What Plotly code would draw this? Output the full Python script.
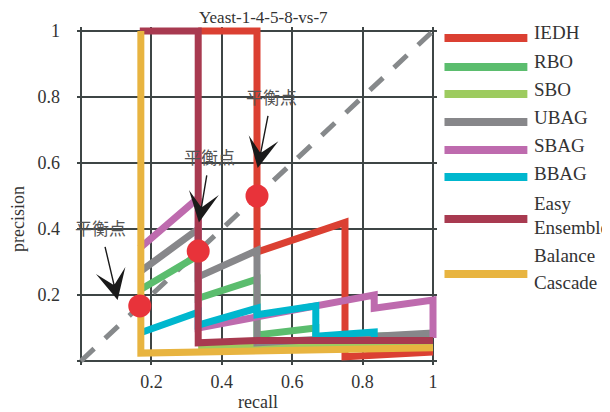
import plotly.graph_objects as go

# ---------------- data ----------------
series_names = ["IEDH", "RBO", "SBO", "UBAG", "SBAG", "BBAG", "Easy Ensemble", "Balance Cascade"]
series_colors = ["#DB4032", "#5BBD6E", "#9DCB5F", "#87878A", "#BE6BAE", "#00B7CE", "#A83A50", "#E8B440"]

iedh_recall = [0.333, 0.5, 0.5, 0.75, 0.75, 1.0]
iedh_precision = [1.0, 1.0, 0.33, 0.42, 0.013, 0.027]

rbo_recall = [0.167, 0.333, 0.333, 0.5, 0.5, 0.667, 0.667, 1.0]
rbo_precision = [0.215, 0.32, 0.19, 0.248, 0.079, 0.10, 0.07, 0.08]

sbo_recall = [0.333, 0.5, 1.0]
sbo_precision = [0.036, 0.042, 0.05]

ubag_recall = [0.167, 0.333, 0.333, 0.5, 0.5, 1.0]
ubag_precision = [0.27, 0.40, 0.255, 0.335, 0.055, 0.085]

sbag_recall = [0.167, 0.333, 0.333, 0.833, 0.833, 1.0, 1.0]
sbag_precision = [0.342, 0.494, 0.10, 0.20, 0.16, 0.185, 0.07]

bbag_recall = [0.167, 0.333, 0.333, 0.5, 0.5, 0.667, 0.667, 0.833, 0.833]
bbag_precision = [0.085, 0.148, 0.109, 0.16, 0.14, 0.167, 0.075, 0.088, 0.07]

easy_recall = [0.167, 0.333, 0.333, 0.5, 1.0]
easy_precision = [1.0, 1.0, 0.055, 0.062, 0.062]

bc_recall = [0.17, 0.17, 1.0]
bc_precision = [1.0, 0.024, 0.04]

diag_recall = [0.0, 1.0]
diag_precision = [0.0, 1.0]

balance_recall = [0.167, 0.333, 0.5]
balance_precision = [0.167, 0.333, 0.5]
balance_label = "平衡点"
# arrow tips (data) and text offsets (px)
arrow_tip_x = [0.104, 0.335, 0.502]
arrow_tip_y = [0.185, 0.42, 0.585]
arrow_ax = [-17, 11, 14]
arrow_ay = [-72, -66, -71]

tick_vals = [0, 0.2, 0.4, 0.6, 0.8, 1]
x_tick_text = ["", "0.2", "0.4", "0.6", "0.8", "1"]
y_tick_text = ["", "0.2", "0.4", "0.6", "0.8", "1"]

title_text = "Yeast-1-4-5-8-vs-7"
x_title = "recall"
y_title = "precision"

all_x = [iedh_recall, rbo_recall, sbo_recall, ubag_recall, sbag_recall, bbag_recall, easy_recall, bc_recall]
all_y = [iedh_precision, rbo_precision, sbo_precision, ubag_precision, sbag_precision, bbag_precision,
         easy_precision, bc_precision]

# ---------------- layout geometry ----------------
OFF = 8                      # page body margin
W, H = 610 - OFF, 412 - OFF
PX0, PX1 = 77 - OFF, 437.5 - OFF     # plot area in px (frame at 81..433.5 in screen)
PY0, PY1 = 27 - OFF, 365 - OFF
ex = 4 / 352.5
ey = 4 / 330


def px2paper_x(px):
    return (px - OFF - PX0) / (PX1 - PX0)


def px2paper_y(py):
    return (PY1 - (py - OFF)) / (PY1 - PY0)


FONT = "Liberation Serif, Times New Roman, serif"

fig = go.Figure()

fig.add_trace(go.Scatter(x=diag_recall, y=diag_precision, mode="lines",
                         line=dict(color="#86898B", width=5, dash="18px,15px"),
                         showlegend=False, hoverinfo="skip"))

for name, col, xs, ys in zip(series_names, series_colors, all_x, all_y):
    fig.add_trace(go.Scatter(x=xs, y=ys, mode="lines", name=name,
                             line=dict(color=col, width=7),
                             showlegend=False))

fig.add_trace(go.Scatter(x=balance_recall, y=balance_precision, mode="markers",
                         marker=dict(color="#E8333A", size=23, line=dict(width=0)),
                         showlegend=False, cliponaxis=False))

annotations = []
for tx, ty, ax, ay in zip(arrow_tip_x, arrow_tip_y, arrow_ax, arrow_ay):
    annotations.append(dict(x=tx, y=ty, xref="x", yref="y", ax=ax, ay=ay,
                            text=balance_label, showarrow=True, arrowhead=3,
                            arrowsize=3.6, arrowwidth=1.4, arrowcolor="#1a1a1a",
                            standoff=0, startstandoff=5,
                            font=dict(family="Noto Sans CJK SC", size=17, color="#555555")))

# title & axis titles
annotations.append(dict(x=px2paper_x(264), y=px2paper_y(17), xref="paper", yref="paper",
                        text=title_text, showarrow=False, xanchor="center", yanchor="middle",
                        font=dict(family=FONT, size=17, color="#333333")))
annotations.append(dict(x=px2paper_x(258), y=px2paper_y(402), xref="paper", yref="paper",
                        text=x_title, showarrow=False, xanchor="center", yanchor="middle",
                        font=dict(family=FONT, size=18, color="#333333")))
annotations.append(dict(x=px2paper_x(18), y=px2paper_y(219), xref="paper", yref="paper",
                        text=y_title, showarrow=False, xanchor="center", yanchor="middle", textangle=-90,
                        font=dict(family=FONT, size=18, color="#333333")))

# manual legend
legend_line_y = [38, 67, 94, 122, 150, 177, 219, 274]
legend_text_rows = [["IEDH"], ["RBO"], ["SBO"], ["UBAG"], ["SBAG"], ["BBAG"], ["Easy", "Ensemble"],
                    ["Balance", "Cascade"]]
legend_text_y = [[31.5], [60], [88], [115.5], [143.5], [171.5], [201.5, 225.5], [253.5, 281]]

shapes = []
for col, ly in zip(series_colors, legend_line_y):
    shapes.append(dict(type="line", xref="paper", yref="paper",
                       x0=px2paper_x(445), x1=px2paper_x(528),
                       y0=px2paper_y(ly), y1=px2paper_y(ly),
                       line=dict(color=col, width=8)))
for rows, ys in zip(legend_text_rows, legend_text_y):
    for t, yy in zip(rows, ys):
        annotations.append(dict(x=px2paper_x(533), y=px2paper_y(yy + 1.5), xref="paper", yref="paper",
                                text=t, showarrow=False, xanchor="left", yanchor="middle",
                                font=dict(family=FONT, size=19, color="#333333")))

axis_common = dict(showgrid=True, gridcolor="#3E4545", gridwidth=1.5, zeroline=False,
                   showline=False, ticks="", tickvals=tick_vals,
                   tickfont=dict(family=FONT, size=18, color="#333333"))

fig.update_layout(
    width=W, height=H,
    margin=dict(l=PX0, r=W - PX1, t=PY0, b=H - PY1, pad=0),
    paper_bgcolor="white", plot_bgcolor="white",
    xaxis=dict(range=[-ex, 1 + ex], ticktext=x_tick_text, ticklabelstandoff=4, **axis_common),
    yaxis=dict(range=[-ey, 1 + ey], ticktext=y_tick_text, ticklabelstandoff=16, **axis_common),
    annotations=annotations,
    shapes=shapes,
    showlegend=False,
)

fig.write_html("out.html")
